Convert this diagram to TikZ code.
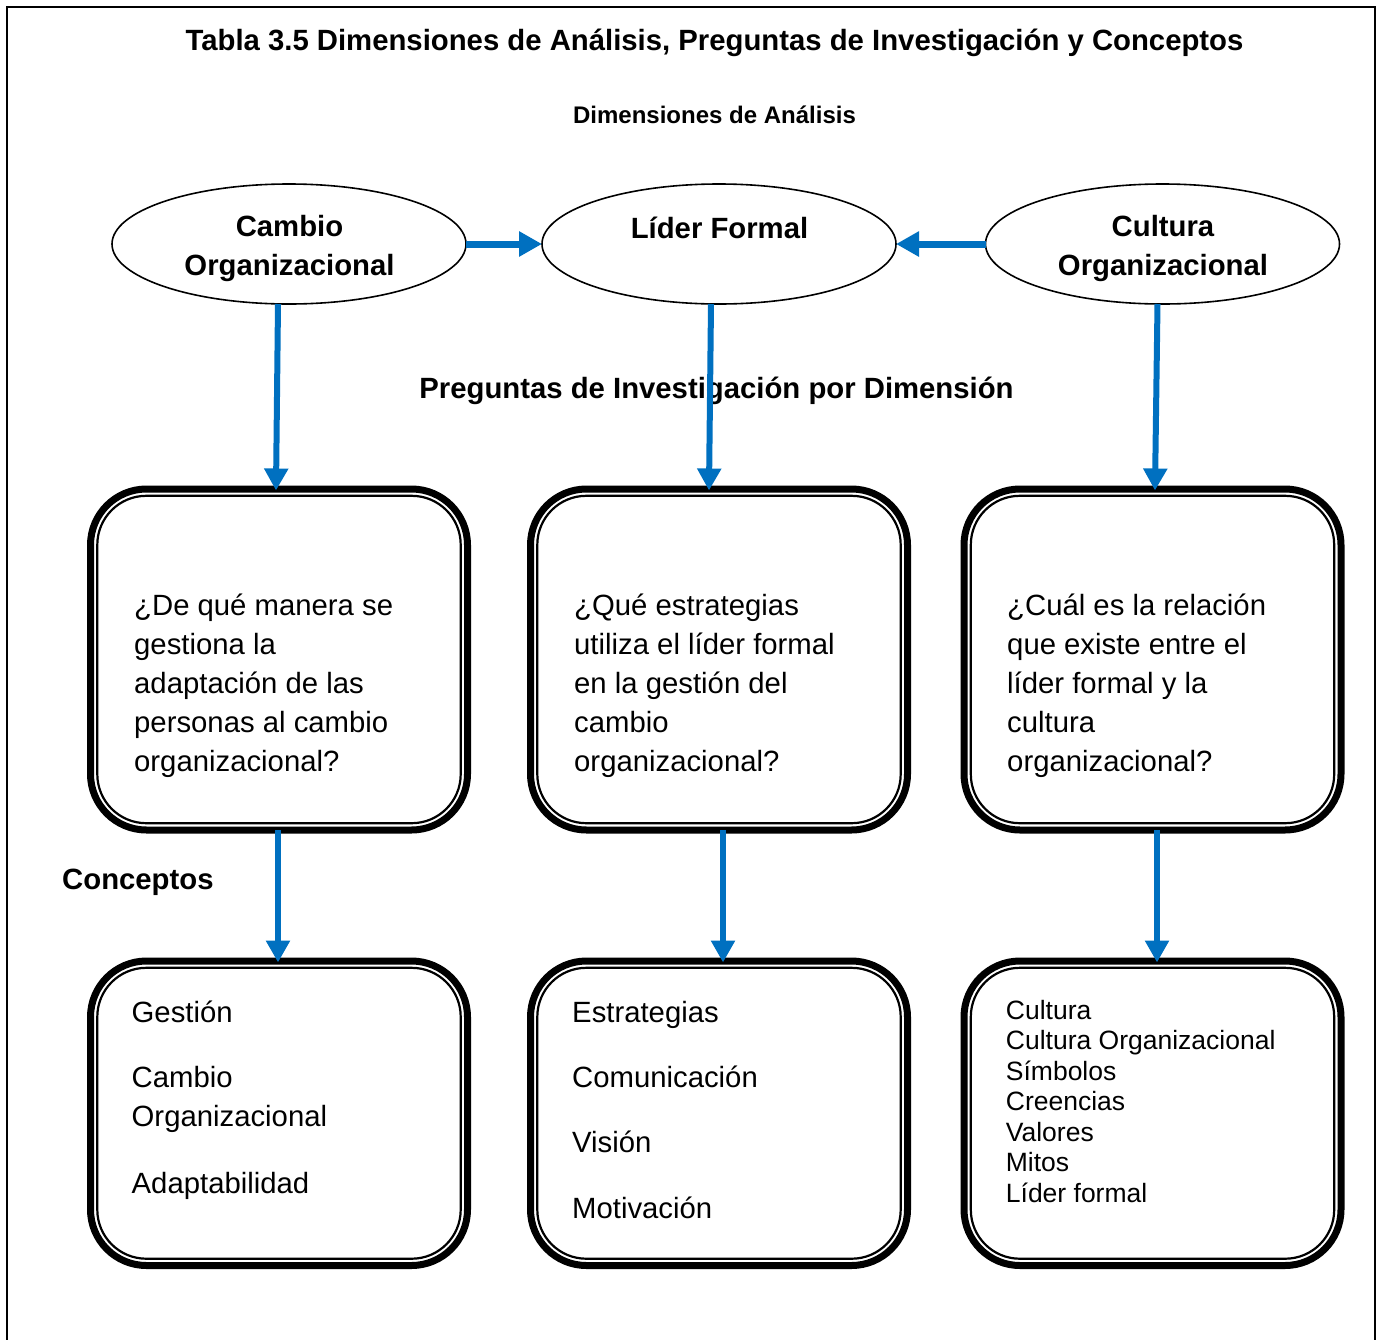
\documentclass[tikz,border=0pt]{standalone}
\usepackage{fontspec}
\setmainfont{Liberation Sans}
\usetikzlibrary{arrows.meta,shapes.geometric}
\definecolor{linkblue}{RGB}{0,112,192}

\newcommand\bigtext{\fontsize{29.3pt}{39pt}\selectfont}
\newcommand\smalltext{\fontsize{26.5pt}{30.5pt}\selectfont}
\newcommand\subtext{\fontsize{24pt}{29pt}\selectfont}

\begin{document}
\begin{tikzpicture}[x=1pt,y=-1pt,
  dimension/.style={draw, ellipse, line width=1.6pt, minimum width=354pt,
    minimum height=120pt, inner sep=0pt, outer sep=0pt},
  panel/.style={draw, line width=7pt, rounded corners=56pt,
    minimum width=377pt, inner sep=0pt, outer sep=0pt},
  qpanel/.style={panel, minimum height=341pt},
  cpanel/.style={panel, minimum height=304.5pt},
  innerline/.style={draw=black, line width=2.2pt, rounded corners=49pt},
  flow/.style={linkblue, line width=6pt, shorten >=-1.5pt,
    -{Triangle[length=22pt,width=23pt]}},
  link/.style={linkblue, line width=7pt, -{Triangle[length=23pt,width=24pt]}},
  heading/.style={font=\bfseries\bigtext, anchor=base, inner sep=0pt},
  dimtext/.style={font=\bfseries\bigtext, align=center, anchor=north, inner sep=0pt},
  body/.style={font=\bigtext, align=left, anchor=north west, inner sep=0pt},
  smallbody/.style={font=\smalltext, align=left, anchor=north west, inner sep=0pt},
]
\useasboundingbox (0,0) rectangle (1381,1339);

% page frame, open at the bottom
\draw[line width=2.2pt] (7,1350) -- (7,7) -- (1375,7) -- (1375,1350);

% headings
\node[heading] (title) at (714.5,50) {Tabla 3.5 Dimensiones de Análisis, Preguntas de Investigación y Conceptos};
\node[heading, font=\bfseries\subtext] (subtitle) at (714.5,123.5) {Dimensiones de Análisis};

% dimensions
\node[dimension] (e1) at (289,244) {};
\node[dimension] (e2) at (719,244) {};
\node[dimension] (e3) at (1162.5,244) {};
\node[dimtext] (t1) at (289.5,208.7) {\strut Cambio\\\strut Organizacional};
\node[heading] (t2) at (719.5,238) {Líder Formal};
\node[dimtext] (t3) at (1163,208.7) {\strut Cultura\\\strut Organizacional};

% research questions
\node[qpanel] (b1) at (279,659.5) {};
\node[qpanel] (b2) at (719,659.5) {};
\node[qpanel] (b3) at (1152.5,659.5) {};

% concepts
\node[cpanel] (c1) at (279,1113.25) {};
\node[cpanel] (c2) at (719,1113.25) {};
\node[cpanel] (c3) at (1152.5,1113.25) {};

% thin inner line of each panel
\foreach \p in {b1,b2,b3,c1,c2,c3}
  \draw[innerline] ([shift={(6.8pt,-6.8pt)}]\p.north west) rectangle ([shift={(-6.8pt,6.8pt)}]\p.south east);

% arrows between dimensions
\draw[link] (e1.east) -- (e2.west);
\draw[link] (e3.west) -- (e2.east);

% section label crossed by the middle arrow
\node[heading] (preg) at (716.5,398) {Preguntas de Investigación por Dimensión};

% arrows from dimensions to questions
\draw[flow] ([xshift=-11pt]e1.south) -- ([xshift=-3pt]b1.north);
\draw[flow] ([xshift=-8pt]e2.south) -- ([xshift=-10pt]b2.north);
\draw[flow] ([xshift=-5pt]e3.south) -- ([xshift=2.5pt]b3.north);

% arrows from questions to concepts
\draw[flow] ([xshift=-1pt]b1.south) -- ([xshift=-1pt]c1.north);
\draw[flow] ([xshift=4pt]b2.south) -- ([xshift=4pt]c2.north);
\draw[flow] ([xshift=4.5pt]b3.south) -- ([xshift=4.5pt]c3.north);

\node[heading, anchor=base west] (conc) at (62,889) {Conceptos};

% question texts
\node[body] (q1) at (134,587.7) {\strut¿De qué manera se\\\strut gestiona la\\\strut adaptación de las\\\strut personas al cambio\\\strut organizacional?};
\node[body] (q2) at (574,587.7) {\strut¿Qué estrategias\\\strut utiliza el líder formal\\\strut en la gestión del\\\strut cambio\\\strut organizacional?};
\node[body] (q3) at (1007,587.7) {\strut¿Cuál es la relación\\\strut que existe entre el\\\strut líder formal y la\\\strut cultura\\\strut organizacional?};

% concept lists
\node[body] (k1) at (131.5,994.7) {\strut Gestión\\[26pt]\strut Cambio\\\strut Organizacional\\[28pt]\strut Adaptabilidad};
\node[body] (k2) at (572,994.7) {\strut Estrategias\\[26pt]\strut Comunicación\\[26pt]\strut Visión\\[27pt]\strut Motivación};
\node[smallbody] (k3) at (1005.7,997.7) {\strut Cultura\\\strut Cultura Organizacional\\\strut Símbolos\\\strut Creencias\\\strut Valores\\\strut Mitos\\\strut Líder formal};
\end{tikzpicture}
\end{document}
